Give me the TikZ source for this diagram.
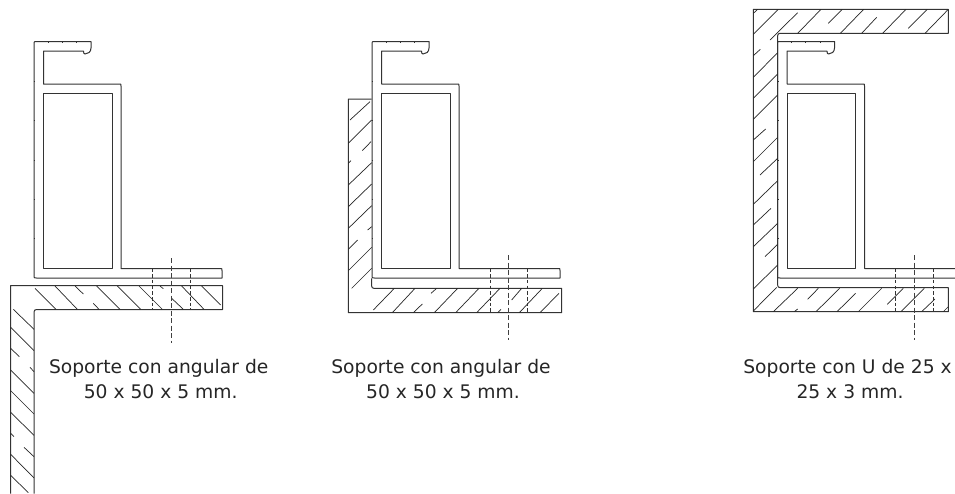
\documentclass[tikz,border=0pt]{standalone}
\usepackage{fontspec}
\setmainfont{DejaVu Sans}
\tikzset{
  outline/.style={line width=1pt,black!80,line join=round},
  hatchline/.style={line width=0.7pt,black!85},
  cutline/.style={line width=0.85pt,black!75,dash pattern=on 5pt off 2.5pt},
  holeline/.style={line width=0.85pt,black!80,dash pattern=on 3.5pt off 2.2pt},
  caption/.style={font=\fontsize{18.7pt}{24.2pt}\selectfont,align=center,inner sep=0pt,text=black!85},
  pics/profile/.style={code={
    \draw[outline] (34,44) .. controls (34,41.5) .. (36.5,41.5) -- (91,41.5) -- (91,48)
      .. controls (91,52) and (88,54) .. (85,54) .. controls (84,54) and (83.5,53) .. (83.5,51.2)
      -- (43.5,51.2) -- (43.5,84) -- (119,84) .. controls (121,84) .. (121,86)
      -- (121,268.5) -- (220,268.5) .. controls (222,268.5) .. (222,270.5) -- (222,278)
      -- (36.5,278) .. controls (34,278) .. (34,275.5) -- cycle;
    \draw[outline] (43.5,93.5) rectangle (112,268.5);
    \foreach \tx in {48,62,76.5}{\draw[outline] (\tx,41) -- (\tx,42.5);}
    \foreach \ty in {81,120.5,160,199,238.5}{\draw[outline] (33.6,\ty) -- (35,\ty);}
  }}
}
\begin{document}
\begin{tikzpicture}[x=1pt,y=-1pt]
\useasboundingbox (0,0) rectangle (955,493);
\clip (0,0) rectangle (955,493);
\fill[white] (0,0) rectangle (955,493);
% profiles
\pic (p1) at (0,0) {profile};
\pic (p2) at (338,0) {profile};
\pic (p3) at (743.5,0) {profile};
% first angle
\draw[outline] (34,493.5) -- (34,315) .. controls (34,309.5) .. (39.5,309.5) -- (222.5,309.5)
  -- (222.5,285.7) -- (10.5,285.7) -- (10.5,493.5);
\begin{scope}[scale=1/3,shift={(0,750)}]
\foreach \a/\b/\c/\d in {105/115/168/178,165/108/232/178,225/108/250/132,280/160/297/178,290/108/360/178,352/108/422/178,417/108/487/178,480/108/490/116,515/145/550/178,545/108/612/178,605/108/662/165,40/178/102/238,32/232/102/302,32/295/58/320,90/352/102/365,32/360/102/430,32/422/102/492,32/487/102/556,32/550/42/560,72/592/102/620,32/613/102/684,32/676/85/728}
  {\draw[hatchline] (\a,\b) -- (\c,\d);}
\end{scope}
% second angle
\begin{scope}[scale=1/3,shift={(1005,90)}]
\draw[outline] (110,207) -- (40,207) -- (40,848) -- (680,848) -- (680,775) -- (125,775)
  .. controls (110,775) .. (110,760) -- (110,745);
\foreach \a/\b/\c/\d in {45/270/105/215,40/340/110/270,82/362/108/335,40/400/48/392,40/465/110/398,40/530/110/462,40/595/110/527,98/600/110/590,40/658/68/630,40/722/110/652,50/775/110/715,115/840/178/775,172/848/240/775,235/848/262/822,288/790/305/775,298/848/368/775,362/848/432/775,425/848/495/775,488/848/498/838,530/810/560/775,553/848/622/775,615/848/672/790}
  {\draw[hatchline] (\a,\b) -- (\c,\d);}
\end{scope}
% third channel
\begin{scope}[scale=1/3,shift={(2205,0)}]
\draw[outline] (640,100) -- (640,28) -- (55,28) -- (55,935) -- (640,935) -- (640,863) -- (145,863)
  .. controls (128,863) .. (128,848) -- (128,115)
  .. controls (128,100) .. (143,100) -- cycle;
\foreach \a/\b/\c/\d in {55/40/68/28,55/103/130/28,105/120/188/38,188/100/258/28,280/70/322/28,316/100/386/28,380/100/425/52,443/100/513/28,520/85/577/28,570/100/640/28,55/167/76/148,55/232/128/158,55/295/128/222,55/358/128/285,55/420/92/387,55/485/128/412,75/525/128/475}
  {\draw[hatchline] (\a,\b) -- (\c,\d);}
\end{scope}
\begin{scope}[scale=1/3,shift={(2205,510)}]
\foreach \a/\b/\c/\d in {55/103/128/32,55/165/108/115,55/230/128/160,90/260/128/223,55/357/128/285,55/423/125/352,115/425/188/355,178/425/188/417,218/388/250/355,243/425/314/355,306/425/362/370,370/425/440/355,457/403/505/355,498/425/568/355,560/425/600/387,625/425/640/410}
  {\draw[hatchline] (\a,\b) -- (\c,\d);}
\end{scope}
% dashed axes
\coordinate (a1t) at (171,258); \coordinate (a1b) at (171,343);
\coordinate (a2t) at (508.7,255); \coordinate (a2b) at (508.7,340);
\coordinate (a3t) at (914.3,255); \coordinate (a3b) at (914.3,340);
\draw[cutline] (a1t) -- (a1b);
\draw[cutline] (a2t) -- (a2b);
\draw[cutline] (a3t) -- (a3b);
\draw[holeline] (152,268.5) -- (152,309.5);
\draw[holeline] (190,268.5) -- (190,309.5);
\draw[holeline] (490,268.5) -- (490,312);
\draw[holeline] (527.7,268.5) -- (527.7,312);
\draw[holeline] (895.3,268.5) -- (895.3,312);
\draw[holeline] (933.3,268.5) -- (933.3,312);
% captions
\node[caption] (c1) at (158.7,379) {Soporte con angular de\\\hspace*{4pt}50 x 50 x 5 mm.};
\node[caption] (c2) at (441,379) {Soporte con angular de\\\hspace*{4pt}50 x 50 x 5 mm.};
\node[caption] (c3) at (847.5,379) {Soporte con U de 25 x\\\hspace*{5pt}25 x 3 mm.};
\end{tikzpicture}
\end{document}
